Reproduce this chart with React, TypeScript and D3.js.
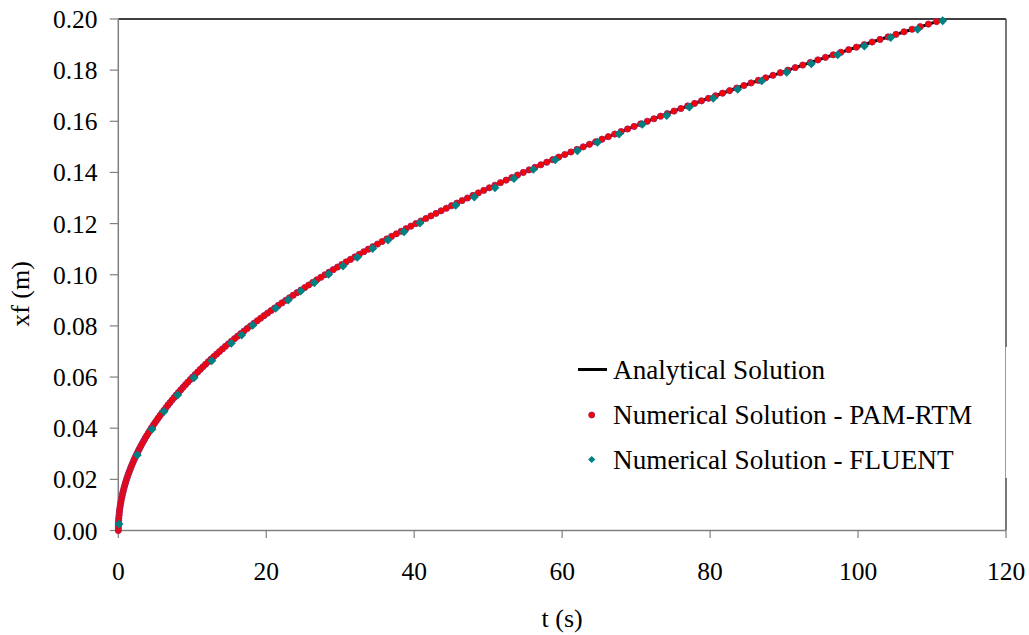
import React from "react";
import * as d3 from "d3";

// Analytical solution samples (t in s, xf in m)
const anaTime = [0, 0.05, 0.2, 0.5, 1, 2, 3, 4.5, 6, 8, 10, 13, 16, 20, 25, 30, 36, 42, 50, 58, 66, 75, 84, 93, 102, 111.7];
const anaXf = [0, 0.00423, 0.00846, 0.01338, 0.01892, 0.02676, 0.03277, 0.04014, 0.04635, 0.05352, 0.05983, 0.06822, 0.07568, 0.08462, 0.0946, 0.10363, 0.11353, 0.12262, 0.13379, 0.1441, 0.15371, 0.16386, 0.17341, 0.18247, 0.19109, 0.19997];

// PAM-RTM numerical solution
const pamTime = [
  0, 0.003, 0.011, 0.025, 0.045, 0.07, 0.101, 0.137, 0.179, 0.226,
  0.279, 0.338, 0.402, 0.472, 0.548, 0.629, 0.715, 0.807, 0.905, 1.008,
  1.117, 1.232, 1.352, 1.478, 1.609, 1.746, 1.888, 2.036, 2.19, 2.349,
  2.514, 2.684, 2.86, 3.042, 3.229, 3.422, 3.62, 3.824, 4.034, 4.249,
  4.469, 4.696, 4.927, 5.165, 5.408, 5.656, 5.911, 6.17, 6.436, 6.707,
  6.983, 7.265, 7.553, 7.846, 8.145, 8.45, 8.76, 9.075, 9.397, 9.724,
  10.056, 10.394, 10.738, 11.087, 11.441, 11.802, 12.168, 12.539, 12.916, 13.299,
  13.687, 14.081, 14.481, 14.886, 15.296, 15.712, 16.134, 16.562, 16.994, 17.433,
  17.877, 18.327, 18.782, 19.243, 19.71, 20.182, 20.659, 21.143, 21.631, 22.126,
  22.626, 23.131, 23.643, 24.159, 24.682, 25.21, 25.743, 26.282, 26.827, 27.377,
  27.933, 28.495, 29.062, 29.634, 30.212, 30.796, 31.386, 31.981, 32.581, 33.187,
  33.799, 34.416, 35.039, 35.668, 36.302, 36.941, 37.587, 38.238, 38.894, 39.556,
  40.224, 40.897, 41.576, 42.26, 42.95, 43.645, 44.346, 45.053, 45.766, 46.483,
  47.207, 47.936, 48.671, 49.411, 50.157, 50.908, 51.665, 52.428, 53.196, 53.969,
  54.749, 55.534, 56.324, 57.12, 57.922, 58.729, 59.542, 60.36, 61.184, 62.014,
  62.849, 63.69, 64.536, 65.388, 66.246, 67.109, 67.978, 68.852, 69.732, 70.618,
  71.509, 72.405, 73.307, 74.215, 75.129, 76.048, 76.972, 77.902, 78.838, 79.78,
  80.726, 81.679, 82.637, 83.601, 84.57, 85.545, 86.525, 87.511, 88.503, 89.5,
  90.503, 91.511, 92.525, 93.545, 94.57, 95.601, 96.637, 97.679, 98.726, 99.78,
  100.838, 101.902, 102.972, 104.048, 105.129, 106.215, 107.307, 108.405, 109.509, 110.618,
];
const pamXf = [
  0, 0.001, 0.002, 0.003, 0.004, 0.005, 0.006, 0.007, 0.008, 0.009,
  0.01, 0.011, 0.012, 0.013, 0.014, 0.015, 0.016, 0.017, 0.018, 0.019,
  0.02, 0.021, 0.022, 0.023, 0.024, 0.025, 0.026, 0.027, 0.028, 0.029,
  0.03, 0.031, 0.032, 0.033, 0.034, 0.035, 0.036, 0.037, 0.038, 0.039,
  0.04, 0.041, 0.042, 0.043, 0.044, 0.045, 0.046, 0.047, 0.048, 0.049,
  0.05, 0.051, 0.052, 0.053, 0.054, 0.055, 0.056, 0.057, 0.058, 0.059,
  0.06, 0.061, 0.062, 0.063, 0.064, 0.065, 0.066, 0.067, 0.068, 0.069,
  0.07, 0.071, 0.072, 0.073, 0.074, 0.075, 0.076, 0.077, 0.078, 0.079,
  0.08, 0.081, 0.082, 0.083, 0.084, 0.085, 0.086, 0.087, 0.088, 0.089,
  0.09, 0.091, 0.092, 0.093, 0.094, 0.095, 0.096, 0.097, 0.098, 0.099,
  0.1, 0.101, 0.102, 0.103, 0.104, 0.105, 0.106, 0.107, 0.108, 0.109,
  0.11, 0.111, 0.112, 0.113, 0.114, 0.115, 0.116, 0.117, 0.118, 0.119,
  0.12, 0.121, 0.122, 0.123, 0.124, 0.125, 0.126, 0.127, 0.128, 0.129,
  0.13, 0.131, 0.132, 0.133, 0.134, 0.135, 0.136, 0.137, 0.138, 0.139,
  0.14, 0.141, 0.142, 0.143, 0.144, 0.145, 0.146, 0.147, 0.148, 0.149,
  0.15, 0.151, 0.152, 0.153, 0.154, 0.155, 0.156, 0.157, 0.158, 0.159,
  0.16, 0.161, 0.162, 0.163, 0.164, 0.165, 0.166, 0.167, 0.168, 0.169,
  0.17, 0.171, 0.172, 0.173, 0.174, 0.175, 0.176, 0.177, 0.178, 0.179,
  0.18, 0.181, 0.182, 0.183, 0.184, 0.185, 0.186, 0.187, 0.188, 0.189,
  0.19, 0.191, 0.192, 0.193, 0.194, 0.195, 0.196, 0.197, 0.198, 0.199,
];

// FLUENT numerical solution
const fluentTime = [0.1, 2.57, 4.56, 6.18, 8.03, 10.23, 12.63, 15.28, 16.68, 18.17, 21.28, 22.98, 24.66, 26.5, 28.44, 30.38, 32.31, 34.39, 36.46, 38.62, 40.78, 45.61, 48.12, 50.92, 53.49, 56.1, 59.07, 62.05, 64.78, 67.69, 70.84, 74.13, 77.19, 80.43, 83.73, 86.98, 90.35, 93.68, 97.25, 100.85, 104.41, 108.06, 111.44];
const fluentXf = [0.0025, 0.0295, 0.0396, 0.0465, 0.053, 0.0597, 0.0664, 0.0732, 0.0764, 0.0802, 0.0869, 0.0901, 0.0936, 0.0969, 0.1002, 0.1034, 0.1068, 0.1103, 0.1136, 0.1168, 0.1202, 0.1272, 0.1304, 0.134, 0.1376, 0.1412, 0.145, 0.1485, 0.1518, 0.155, 0.1588, 0.1623, 0.1656, 0.169, 0.1725, 0.1758, 0.1792, 0.1825, 0.186, 0.1894, 0.1928, 0.196, 0.1993];

const xTicks = [0, 20, 40, 60, 80, 100, 120];
const yTicks = [0, 0.02, 0.04, 0.06, 0.08, 0.1, 0.12, 0.14, 0.16, 0.18, 0.2];

const legendLabels = ["Analytical Solution", "Numerical Solution - PAM-RTM", "Numerical Solution - FLUENT"];

const W = 1029;
const H = 635;
const FONT = "'Liberation Serif', 'Times New Roman', serif";

export default function App() {
  const x = d3.scaleLinear().domain([0, 120]).range([118.3, 1006]);
  const y = d3.scaleLinear().domain([0, 0.2]).range([530.5, 19]);
  const [x0, x1] = x.range();
  const [yb, yt] = y.range();

  const anaData = anaTime.map((t, i) => [t, anaXf[i]] as [number, number]);
  const line = d3
    .line<[number, number]>()
    .x((d) => x(d[0]))
    .y((d) => y(d[1]))
    .curve(d3.curveMonotoneY);

  const diamond = d3.symbol().type(d3.symbolSquare).size(40)();
  const diamondSmall = d3.symbol().type(d3.symbolSquare).size(26)();

  const legX = 578;
  const legY = [369.5, 415, 459.5];

  return (
    <svg width={W} height={H} style={{ position: "absolute", left: 0, top: 0, background: "#fff" }}>
      <rect x={0} y={0} width={W} height={H} fill="#fff" />

      {/* plot frame: top and right */}
      <line x1={x0} x2={x1} y1={yt} y2={yt} stroke="#000" strokeWidth={1.5} />
      <line x1={x1} x2={x1} y1={yt} y2={347} stroke="#4a4a4a" strokeWidth={1.5} />
      <line x1={x1 - 0.5} x2={x1 - 0.5} y1={347} y2={478} stroke="#9a9a9a" strokeWidth={1} />
      <line x1={x1} x2={x1} y1={478} y2={yb} stroke="#4a4a4a" strokeWidth={1.5} />

      {/* axes */}
      <line x1={x0} x2={x1} y1={yb} y2={yb} stroke="#808080" strokeWidth={1.5} />
      <line x1={x0} x2={x0} y1={yt} y2={yb} stroke="#808080" strokeWidth={1.5} />

      {xTicks.map((t) => (
        <g key={"xt" + t}>
          <line x1={x(t)} x2={x(t)} y1={yb} y2={yb + 7.5} stroke="#808080" strokeWidth={1.2} />
          <text x={x(t)} y={580} textAnchor="middle" fontFamily={FONT} fontSize={25.5} fill="#000">
            {t}
          </text>
        </g>
      ))}
      {yTicks.map((v) => (
        <g key={"yt" + v}>
          <line x1={x0 - 8.5} x2={x0} y1={y(v)} y2={y(v)} stroke="#808080" strokeWidth={1.2} />
          <text x={97.5} y={y(v) + 9} textAnchor="end" fontFamily={FONT} fontSize={25.5} fill="#000">
            {v.toFixed(2)}
          </text>
        </g>
      ))}

      <text x={(x0 + x1) / 2} y={627} textAnchor="middle" fontFamily={FONT} fontSize={26} fill="#000">
        t (s)
      </text>
      <text
        transform={`translate(29, 294) rotate(-90)`}
        textAnchor="middle"
        fontFamily={FONT}
        fontSize={26}
        fill="#000"
      >
        xf (m)
      </text>

      {/* analytical line */}
      <path d={line(anaData) || ""} fill="none" stroke="#000" strokeWidth={3} />

      {/* PAM-RTM points */}
      {pamTime.map((t, i) => (
        <circle key={"p" + i} cx={x(t)} cy={y(pamXf[i])} r={3.1} fill="#ff0000" stroke="#a01d5e" strokeWidth={0.9} />
      ))}

      {/* FLUENT points */}
      {fluentTime.map((t, i) => (
        <path
          key={"f" + i}
          d={diamond || ""}
          transform={`translate(${x(t)},${y(fluentXf[i])}) rotate(45)`}
          fill="#008080"
        />
      ))}

      {/* legend */}
      <line x1={legX} x2={legX + 29} y1={legY[0]} y2={legY[0]} stroke="#000" strokeWidth={3} />
      <circle cx={591.7} cy={legY[1]} r={3} fill="#ff0000" stroke="#a01d5e" strokeWidth={0.9} />
      <path d={diamondSmall || ""} transform={`translate(591.7,${legY[2]}) rotate(45)`} fill="#008080" />
      {legendLabels.map((s, i) => (
        <text key={s} x={613} y={legY[i] + 9} fontFamily={FONT} fontSize={27.2} fill="#000">
          {s}
        </text>
      ))}
    </svg>
  );
}
